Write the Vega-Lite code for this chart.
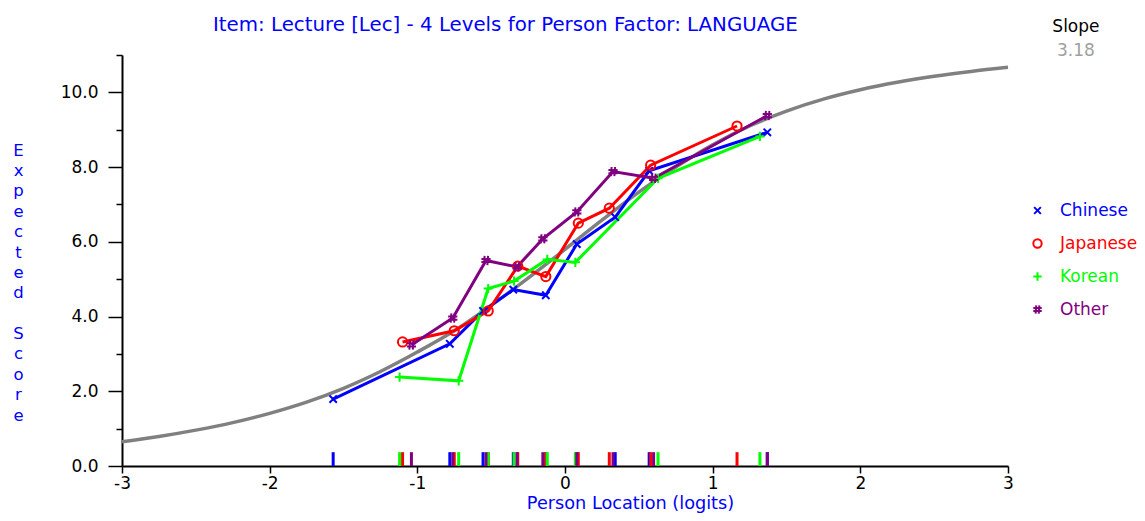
{
  "$schema": "https://vega.github.io/schema/vega-lite/v6.json",
  "autosize": "none",
  "width": 886,
  "height": 411,
  "padding": {"left": 122, "top": 55, "right": 137, "bottom": 55},
  "background": "white",
  "config": {
    "view": {"stroke": null},
    "font": "DejaVu Sans",
    "legend": {
      "orient": "none",
      "legendX": 907,
      "legendY": 147,
      "padding": 0,
      "symbolSize": 70,
      "symbolStrokeWidth": 2,
      "labelFontSize": 17,
      "labelFont": "DejaVu Sans",
      "labelOffset": 14,
      "rowPadding": 15
    }
  },
  "title": {
    "text": "Item: Lecture [Lec] - 4 Levels for Person Factor: LANGUAGE",
    "color": "#0000FF",
    "fontSize": 19.8,
    "fontWeight": "normal",
    "font": "DejaVu Sans",
    "anchor": "start",
    "frame": "group",
    "dx": 91,
    "offset": -17
  },
  "datasets": {
    "curve": [
      {"x": -3.0, "y": 0.65}, {"x": -2.75, "y": 0.79}, {"x": -2.5, "y": 0.96}, {"x": -2.25, "y": 1.16},
      {"x": -2.0, "y": 1.41}, {"x": -1.75, "y": 1.71}, {"x": -1.5, "y": 2.08}, {"x": -1.25, "y": 2.53},
      {"x": -1.0, "y": 3.05}, {"x": -0.75, "y": 3.62}, {"x": -0.5, "y": 4.3}, {"x": -0.25, "y": 5.03},
      {"x": 0.0, "y": 5.8}, {"x": 0.25, "y": 6.58}, {"x": 0.5, "y": 7.33}, {"x": 0.75, "y": 8.0},
      {"x": 1.0, "y": 8.6}, {"x": 1.25, "y": 9.1}, {"x": 1.5, "y": 9.5}, {"x": 1.75, "y": 9.82},
      {"x": 2.0, "y": 10.07}, {"x": 2.25, "y": 10.27}, {"x": 2.5, "y": 10.43}, {"x": 2.75, "y": 10.56},
      {"x": 3.0, "y": 10.67}
    ],
    "groups": [
      {"group": "Chinese", "x": -1.57, "y": 1.79},
      {"group": "Chinese", "x": -0.78, "y": 3.27},
      {"group": "Chinese", "x": -0.555, "y": 4.15},
      {"group": "Chinese", "x": -0.35, "y": 4.72},
      {"group": "Chinese", "x": -0.13, "y": 4.57},
      {"group": "Chinese", "x": 0.08, "y": 5.94},
      {"group": "Chinese", "x": 0.34, "y": 6.66},
      {"group": "Chinese", "x": 0.57, "y": 7.9},
      {"group": "Chinese", "x": 1.37, "y": 8.93},
      {"group": "Japanese", "x": -1.1, "y": 3.32},
      {"group": "Japanese", "x": -0.75, "y": 3.62},
      {"group": "Japanese", "x": -0.52, "y": 4.15},
      {"group": "Japanese", "x": -0.32, "y": 5.35},
      {"group": "Japanese", "x": -0.13, "y": 5.07},
      {"group": "Japanese", "x": 0.09, "y": 6.5},
      {"group": "Japanese", "x": 0.3, "y": 6.9},
      {"group": "Japanese", "x": 0.58, "y": 8.05},
      {"group": "Japanese", "x": 1.165, "y": 9.1},
      {"group": "Korean", "x": -1.12, "y": 2.38},
      {"group": "Korean", "x": -0.72, "y": 2.28},
      {"group": "Korean", "x": -0.52, "y": 4.75},
      {"group": "Korean", "x": -0.345, "y": 4.95},
      {"group": "Korean", "x": -0.12, "y": 5.53},
      {"group": "Korean", "x": 0.07, "y": 5.45},
      {"group": "Korean", "x": 0.63, "y": 7.7},
      {"group": "Korean", "x": 1.32, "y": 8.82},
      {"group": "Other", "x": -1.04, "y": 3.24},
      {"group": "Other", "x": -0.76, "y": 3.96},
      {"group": "Other", "x": -0.535, "y": 5.5},
      {"group": "Other", "x": -0.325, "y": 5.33},
      {"group": "Other", "x": -0.15, "y": 6.08},
      {"group": "Other", "x": 0.08, "y": 6.8},
      {"group": "Other", "x": 0.325, "y": 7.88},
      {"group": "Other", "x": 0.6, "y": 7.7},
      {"group": "Other", "x": 1.37, "y": 9.38}
    ]
  },
  "encoding": {
    "x": {
      "type": "quantitative",
      "scale": {"domain": [-3, 3], "nice": false, "zero": false},
      "axis": {
        "values": [-3, -2, -1, 0, 1, 2, 3],
        "labelExpr": "'' + datum.value",
        "grid": false,
        "domainColor": "black",
        "domainWidth": 2,
        "tickColor": "black",
        "tickWidth": 1.5,
        "tickSize": 7,
        "labelFontSize": 17,
        "labelColor": "black",
        "labelPadding": 2,
        "labelFlush": false,
        "title": "Person Location (logits)",
        "titleColor": "#0000FF",
        "titleFontSize": 17.7,
        "titleFontWeight": "normal",
        "titlePadding": 3,
        "titleX": 508,
        "titleAlign": "center",
        "titleAnchor": "start"
      }
    },
    "y": {
      "type": "quantitative",
      "scale": {"domain": [0, 11], "nice": false, "zero": true},
      "axis": {
        "values": [0, 1, 2, 3, 4, 5, 6, 7, 8, 9, 10, 11],
        "labelExpr": "datum.value % 2 == 0 && datum.value < 11 ? format(datum.value, '.1f') : ''",
        "grid": false,
        "domainColor": "black",
        "domainWidth": 2,
        "tickColor": "black",
        "tickWidth": 1.5,
        "tickSize": {"condition": {"test": "datum.value % 2 == 1", "value": 6}, "value": 14},
        "labelFontSize": 17,
        "labelColor": "black",
        "labelPadding": 10,
        "labelFlush": false,
        "title": ["E", "x", "p", "e", "c", "t", "e", "d", "\u200b", "S", "c", "o", "r", "e"],
        "titleAngle": 0,
        "titleColor": "#0000FF",
        "titleFontSize": 16.5,
        "titleFontWeight": "normal",
        "titleLineHeight": 20.4,
        "titleX": -104,
        "titleY": 87,
        "titleAlign": "center",
        "titleBaseline": "top"
      }
    }
  },
  "layer": [
    {
      "mark": {"type": "rule", "color": "black", "strokeDash": [4, 4], "strokeWidth": 1.5},
      "encoding": {"y": {"datum": 11, "type": "quantitative"}, "x": null}
    },
    {
      "data": {"name": "curve"},
      "mark": {"type": "line", "color": "#808080", "strokeWidth": 3.5, "interpolate": "monotone"},
      "encoding": {"x": {"field": "x", "type": "quantitative"}, "y": {"field": "y", "type": "quantitative"}}
    },
    {
      "data": {"name": "groups"},
      "mark": {"type": "line", "strokeWidth": 3},
      "encoding": {
        "x": {"field": "x", "type": "quantitative"},
        "y": {"field": "y", "type": "quantitative"},
        "color": {"field": "group", "type": "nominal",
          "scale": {"domain": ["Chinese", "Japanese", "Korean", "Other"], "range": ["#0000FF", "#FF0000", "#00FF00", "#800080"]},
          "legend": {"title": null, "encode": {"labels": {"update": {"fill": {"scale": "color", "field": "value"}}}}}}
      }
    },
    {
      "data": {"name": "groups"},
      "mark": {"type": "rule", "strokeWidth": 3},
      "encoding": {
        "x": {"field": "x", "type": "quantitative"},
        "y": {"datum": 0, "type": "quantitative"},
        "y2": {"datum": 0.37},
        "color": {"field": "group", "type": "nominal"}
      }
    },
    {
      "data": {"name": "groups"},
      "mark": {"type": "point", "filled": false, "size": 85, "strokeWidth": 2, "opacity": 1},
      "encoding": {
        "x": {"field": "x", "type": "quantitative"},
        "y": {"field": "y", "type": "quantitative"},
        "color": {"field": "group", "type": "nominal"},
        "shape": {"field": "group", "type": "nominal",
          "legend": {"title": null},
          "scale": {"domain": ["Chinese", "Japanese", "Korean", "Other"],
            "range": ["M-0.8,-0.8L0.8,0.8M-0.8,0.8L0.8,-0.8", "circle", "M-1,0L1,0M0,-1L0,1", "M-0.3,-1L-0.45,1M0.45,-1L0.3,1M-1,-0.35L1,-0.35M-1,0.35L1,0.35"]}}
      }
    },
    {
      "data": {"values": [{"label": "Slope", "x": 3.46, "y": 11.76}]},
      "mark": {"type": "text", "fontSize": 17, "color": "black", "align": "center", "baseline": "middle"},
      "encoding": {"x": {"field": "x", "type": "quantitative"}, "y": {"field": "y", "type": "quantitative"}, "text": {"field": "label"}}
    },
    {
      "data": {"values": [{"label": "3.18", "x": 3.46, "y": 11.1}]},
      "mark": {"type": "text", "fontSize": 17, "color": "#A0A0A0", "align": "center", "baseline": "middle"},
      "encoding": {"x": {"field": "x", "type": "quantitative"}, "y": {"field": "y", "type": "quantitative"}, "text": {"field": "label"}}
    }
  ]
}
